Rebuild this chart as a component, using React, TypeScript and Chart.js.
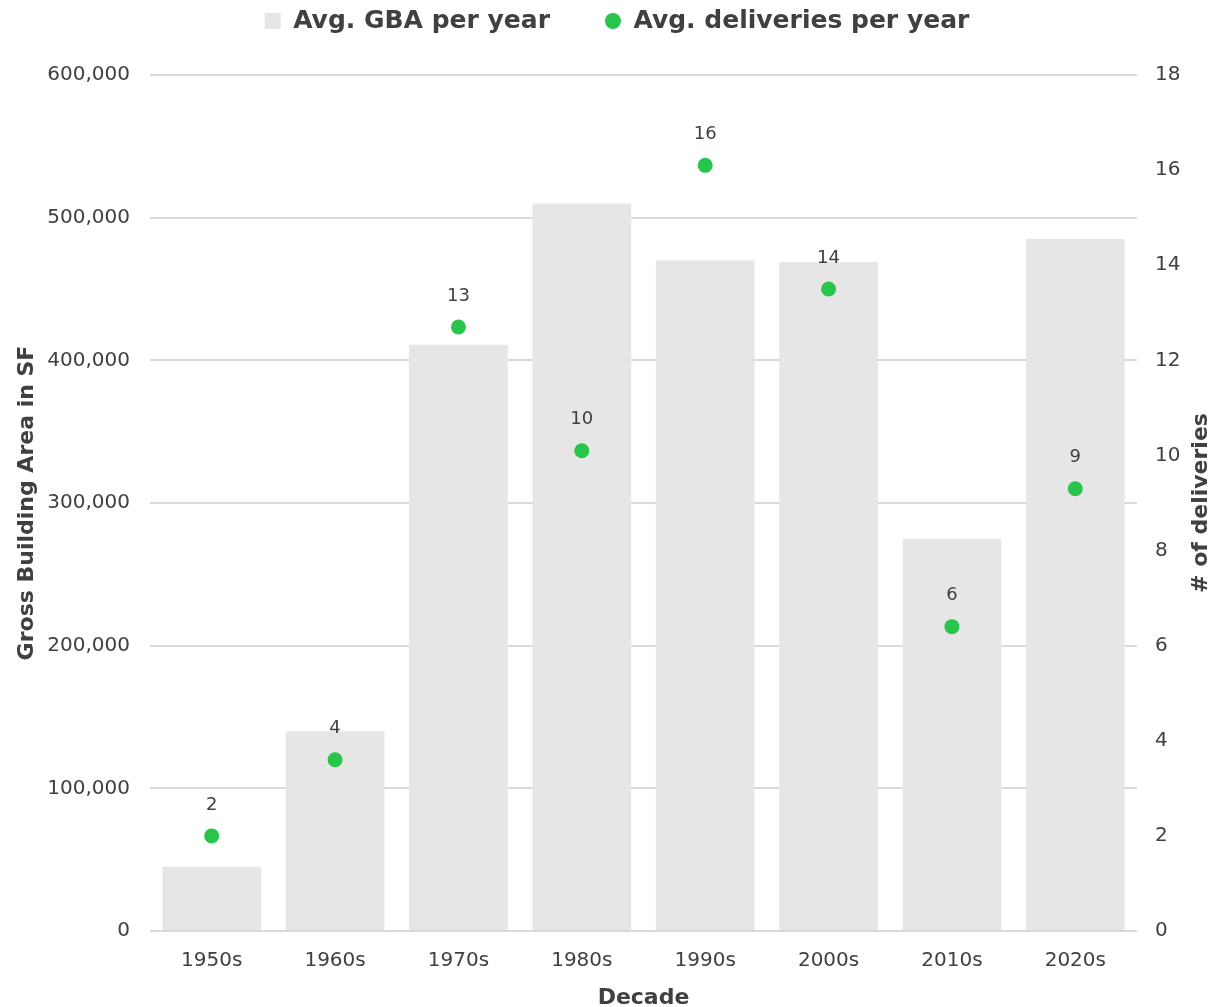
import React, { useEffect, useRef } from "react";
import { Chart, registerables } from "chart.js";

Chart.register(...registerables);

const decades = ["1950s", "1960s", "1970s", "1980s", "1990s", "2000s", "2010s", "2020s"];
const avgGba = [45000, 140000, 411000, 510000, 470000, 469000, 275000, 485000];
const avgDeliveries = [2.0, 3.6, 12.7, 10.1, 16.1, 13.5, 6.4, 9.3];
const legendLabels = ["Avg. GBA per year", "Avg. deliveries per year"];

const FONT = "'DejaVu Sans', sans-serif";
const TEXT = "#404040";
const BAR = "#e6e6e6";
const GREEN = "#28c44c";
const GRID = "#d9d9d9";

const pointLabels = {
  id: "pointLabels",
  afterDatasetsDraw(chart: any) {
    const meta = chart.getDatasetMeta(1);
    const ctx = chart.ctx;
    ctx.save();
    ctx.font = `18px ${FONT}`;
    ctx.fillStyle = TEXT;
    ctx.textAlign = "center";
    ctx.textBaseline = "middle";
    meta.data.forEach((pt: any, i: number) => {
      ctx.fillText(String(Math.round(avgDeliveries[i])), pt.x, pt.y - 31);
    });
    ctx.restore();
  },
};

const rightTitle = {
  id: "rightTitle",
  afterDraw(chart: any) {
    const { ctx, chartArea } = chart;
    ctx.save();
    ctx.translate(chart.width - 12, (chartArea.top + chartArea.bottom) / 2);
    ctx.rotate(-Math.PI / 2);
    ctx.font = `bold 22px ${FONT}`;
    ctx.fillStyle = TEXT;
    ctx.textAlign = "center";
    ctx.textBaseline = "middle";
    ctx.fillText("# of deliveries", 0, 0);
    ctx.restore();
  },
};

export default function App() {
  const ref = useRef<HTMLCanvasElement | null>(null);
  useEffect(() => {
    document.body.style.margin = "0";
    if (!ref.current) return;
    const chart = new Chart(ref.current, {
      type: "bar",
      data: {
        labels: decades,
        datasets: [
          {
            type: "bar",
            label: legendLabels[0],
            data: avgGba,
            backgroundColor: BAR,
            borderWidth: 0,
            barPercentage: 0.8,
            categoryPercentage: 1,
            yAxisID: "y",
            order: 1,
          } as any,
          {
            type: "line",
            label: legendLabels[1],
            data: avgDeliveries,
            showLine: false,
            pointRadius: 7.5,
            pointBackgroundColor: GREEN,
            pointBorderWidth: 0,
            borderColor: GREEN,
            backgroundColor: GREEN,
            yAxisID: "y1",
            order: 0,
          } as any,
        ],
      },
      options: {
        animation: false,
        responsive: true,
        maintainAspectRatio: false,
        events: [],
        layout: { padding: { top: -46.5, left: 21, right: 0, bottom: 0 } },
        plugins: {
          tooltip: { enabled: false },
          title: {
            display: true,
            text: "",
            position: "top",
            weight: 500,
            font: { size: 1, lineHeight: 1 },
            padding: { top: 0, bottom: 30.5 },
          },
          legend: {
            display: true,
            position: "top",
            labels: {
              padding: 55,
              boxWidth: 16,
              boxHeight: 16,
              color: TEXT,
              font: { family: FONT, size: 25, weight: "bold" },
              useBorderRadius: true,
              generateLabels: () => [
                {
                  text: legendLabels[0],
                  fillStyle: BAR,
                  strokeStyle: BAR,
                  lineWidth: 0,
                  hidden: false,
                  datasetIndex: 0,
                  borderRadius: 0,
                  fontColor: TEXT,
                },
                {
                  text: legendLabels[1],
                  fillStyle: GREEN,
                  strokeStyle: GREEN,
                  lineWidth: 0,
                  hidden: false,
                  datasetIndex: 1,
                  borderRadius: 8,
                  fontColor: TEXT,
                },
              ],
            },
          },
        },
        scales: {
          x: {
            type: "category",
            grid: { display: false, drawTicks: false },
            border: { display: false },
            ticks: { color: TEXT, font: { family: FONT, size: 20 }, padding: 17.5 },
            title: {
              display: true,
              text: "Decade",
              color: TEXT,
              font: { family: FONT, size: 22, weight: "bold", lineHeight: "18px" },
              padding: 0,
            },
            afterFit: (s: any) => {
              s.height = 76;
            },
          },
          y: {
            position: "left",
            min: 0,
            max: 600000,
            ticks: {
              stepSize: 100000,
              color: TEXT,
              font: { family: FONT, size: 20 },
              padding: 20,
            },
            grid: { color: GRID, lineWidth: 2, drawTicks: false },
            border: { display: false },
            title: {
              display: true,
              text: "Gross Building Area in SF",
              color: TEXT,
              font: { family: FONT, size: 22, weight: "bold", lineHeight: "12px" },
              padding: 0,
            },
            afterFit: (s: any) => {
              s.width = 129;
            },
          },
          y1: {
            position: "right",
            min: 0,
            max: 18,
            ticks: {
              stepSize: 2,
              color: TEXT,
              font: { family: FONT, size: 20 },
              padding: 18,
            },
            grid: { display: false, drawTicks: false },
            border: { display: false },
            title: { display: false },
            afterFit: (s: any) => {
              s.width = 76;
            },
          },
        },
      } as any,
      plugins: [pointLabels, rightTitle],
    });
    return () => chart.destroy();
  }, []);
  return (
    <div style={{ position: "absolute", left: 0, top: 0, width: 1213, height: 1007 }}>
      <canvas ref={ref} />
    </div>
  );
}
